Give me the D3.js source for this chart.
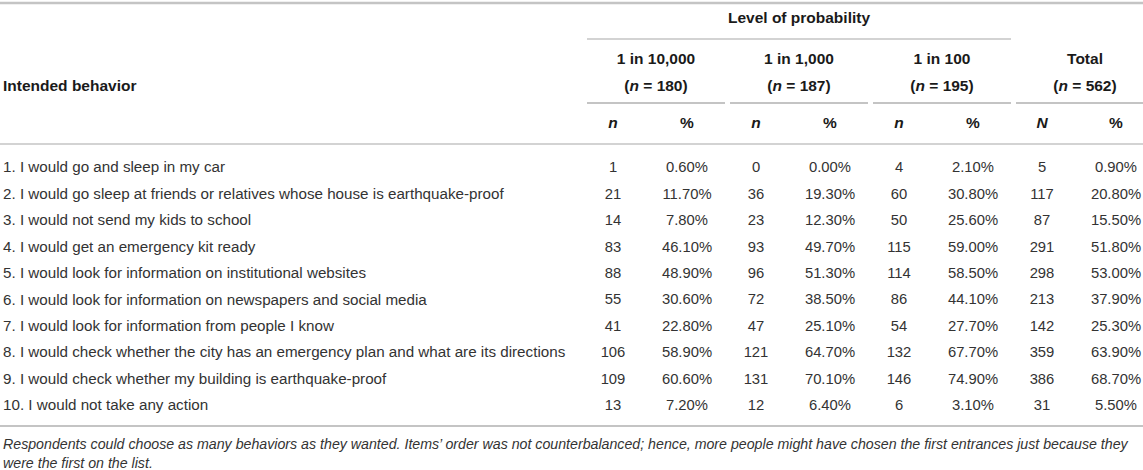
<!DOCTYPE html>
<html>
<head>
<meta charset="utf-8">
<script src="https://cdn.jsdelivr.net/npm/d3@7"></script>
<style>
  body { margin: 0; background: #fff; }
  svg { display: block; font-family: "Liberation Sans", Arial, Helvetica, sans-serif; }
  .head { font-weight: bold; fill: #1a1a1a; font-size: 15.5px; }
  .cell { fill: #333; font-size: 14.8px; }
  .label { font-size: 15.2px; }
  .rule { stroke: #c4c4c4; }
  .note { fill: #333; font-size: 14.2px; font-style: italic; }
</style>
</head>
<body>
<svg id="chart" width="1143" height="470"></svg>
<script>
// table content
const behaviors = [
  "1. I would go and sleep in my car",
  "2. I would go sleep at friends or relatives whose house is earthquake-proof",
  "3. I would not send my kids to school",
  "4. I would get an emergency kit ready",
  "5. I would look for information on institutional websites",
  "6. I would look for information on newspapers and social media",
  "7. I would look for information from people I know",
  "8. I would check whether the city has an emergency plan and what are its directions",
  "9. I would check whether my building is earthquake-proof",
  "10. I would not take any action"
];
const levels = ["1 in 10,000", "1 in 1,000", "1 in 100", "Total"];
const levelN = [180, 187, 195, 562];
const subHeads = [["n", "%"], ["n", "%"], ["n", "%"], ["N", "%"]];

const n10000 = [1, 21, 14, 83, 88, 55, 41, 106, 109, 13];
const pct10000 = [0.6, 11.7, 7.8, 46.1, 48.9, 30.6, 22.8, 58.9, 60.6, 7.2];
const n1000 = [0, 36, 23, 93, 96, 72, 47, 121, 131, 12];
const pct1000 = [0.0, 19.3, 12.3, 49.7, 51.3, 38.5, 25.1, 64.7, 70.1, 6.4];
const n100 = [4, 60, 50, 115, 114, 86, 54, 132, 146, 6];
const pct100 = [2.1, 30.8, 25.6, 59.0, 58.5, 44.1, 27.7, 67.7, 74.9, 3.1];
const nTotal = [5, 117, 87, 291, 298, 213, 142, 359, 386, 31];
const pctTotal = [0.9, 20.8, 15.5, 51.8, 53.0, 37.9, 25.3, 63.9, 68.7, 5.5];

const noteLines = [
  "Respondents could choose as many behaviors as they wanted. Items\u2019 order was not counterbalanced; hence, more people might have chosen the first entrances just because they",
  "were the first on the list."
];

const counts = [n10000, n1000, n100, nTotal];
const pcts = [pct10000, pct1000, pct100, pctTotal];

const svg = d3.select("#chart");
const fmtPct = v => d3.format(".2f")(v) + "%";

// layout scales
const x = d3.scaleBand().domain(levels).range([587, 1154]).paddingInner(5 / 143);
const sub = d3.scalePoint().domain([0, 1]).range([26, 100]);
const y = d3.scalePoint().domain(d3.range(behaviors.length)).range([167, 405]);

// horizontal rules
svg.append("line").attr("class", "rule").attr("x1", 0).attr("x2", 1143)
  .attr("y1", 3).attr("y2", 3).attr("stroke-width", 2.5);
svg.append("line").attr("class", "rule").attr("x1", x(levels[0])).attr("x2", x(levels[2]) + x.bandwidth())
  .attr("y1", 39).attr("y2", 39).attr("stroke-width", 1.5);
svg.selectAll("line.grp").data(levels).join("line")
  .attr("class", "rule grp")
  .attr("x1", d => x(d)).attr("x2", d => Math.min(1143, x(d) + x.bandwidth()))
  .attr("y1", 103).attr("y2", 103).attr("stroke-width", 2);
svg.append("line").attr("class", "rule").attr("x1", 0).attr("x2", 1143)
  .attr("y1", 144).attr("y2", 144).attr("stroke-width", 1.5);
svg.append("line").attr("class", "rule").attr("x1", 0).attr("x2", 1143)
  .attr("y1", 426).attr("y2", 426).attr("stroke-width", 2);

// header text
svg.append("text").attr("class", "head")
  .attr("x", (x(levels[0]) + x(levels[2]) + x.bandwidth()) / 2).attr("y", 18)
  .attr("text-anchor", "middle").attr("dy", "0.35em").text("Level of probability");
svg.append("text").attr("class", "head").attr("x", 3).attr("y", 86)
  .attr("dy", "0.35em").text("Intended behavior");

const grp = svg.selectAll("g.level").data(levels).join("g")
  .attr("class", "level")
  .attr("transform", d => `translate(${x(d)},0)`);
grp.append("text").attr("class", "head")
  .attr("x", x.bandwidth() / 2).attr("y", 59).attr("dy", "0.35em")
  .attr("text-anchor", "middle").text(d => d);
const nLine = grp.append("text").attr("class", "head")
  .attr("x", x.bandwidth() / 2).attr("y", 86).attr("dy", "0.35em")
  .attr("text-anchor", "middle");
nLine.append("tspan").text("(");
nLine.append("tspan").attr("font-style", "italic").text("n");
nLine.append("tspan").text((d, i) => " = " + levelN[i] + ")");
grp.each(function (d, i) {
  d3.select(this).selectAll("text.sub").data(subHeads[i]).join("text")
    .attr("class", "head sub")
    .attr("x", (s, j) => sub(j)).attr("y", 123).attr("dy", "0.35em")
    .attr("text-anchor", "middle")
    .attr("font-style", s => s === "%" ? null : "italic")
    .text(s => s);
});

// body rows
svg.selectAll("text.label").data(behaviors).join("text")
  .attr("class", "cell label")
  .attr("x", 3).attr("y", (d, i) => y(i)).attr("dy", "0.35em")
  .text(d => d);

grp.each(function (d, i) {
  const g = d3.select(this);
  g.selectAll("text.cnt").data(counts[i]).join("text")
    .attr("class", "cell cnt")
    .attr("x", sub(0)).attr("y", (v, r) => y(r)).attr("dy", "0.35em")
    .attr("text-anchor", "middle").text(v => v);
  g.selectAll("text.pct").data(pcts[i]).join("text")
    .attr("class", "cell pct")
    .attr("x", sub(1)).attr("y", (v, r) => y(r)).attr("dy", "0.35em")
    .attr("text-anchor", "middle").text(fmtPct);
});

// footnote
svg.selectAll("text.note").data(noteLines).join("text")
  .attr("class", "note")
  .attr("x", 3).attr("y", (d, i) => 444 + i * 19).attr("dy", "0.35em")
  .text(d => d);
</script>
</body>
</html>
